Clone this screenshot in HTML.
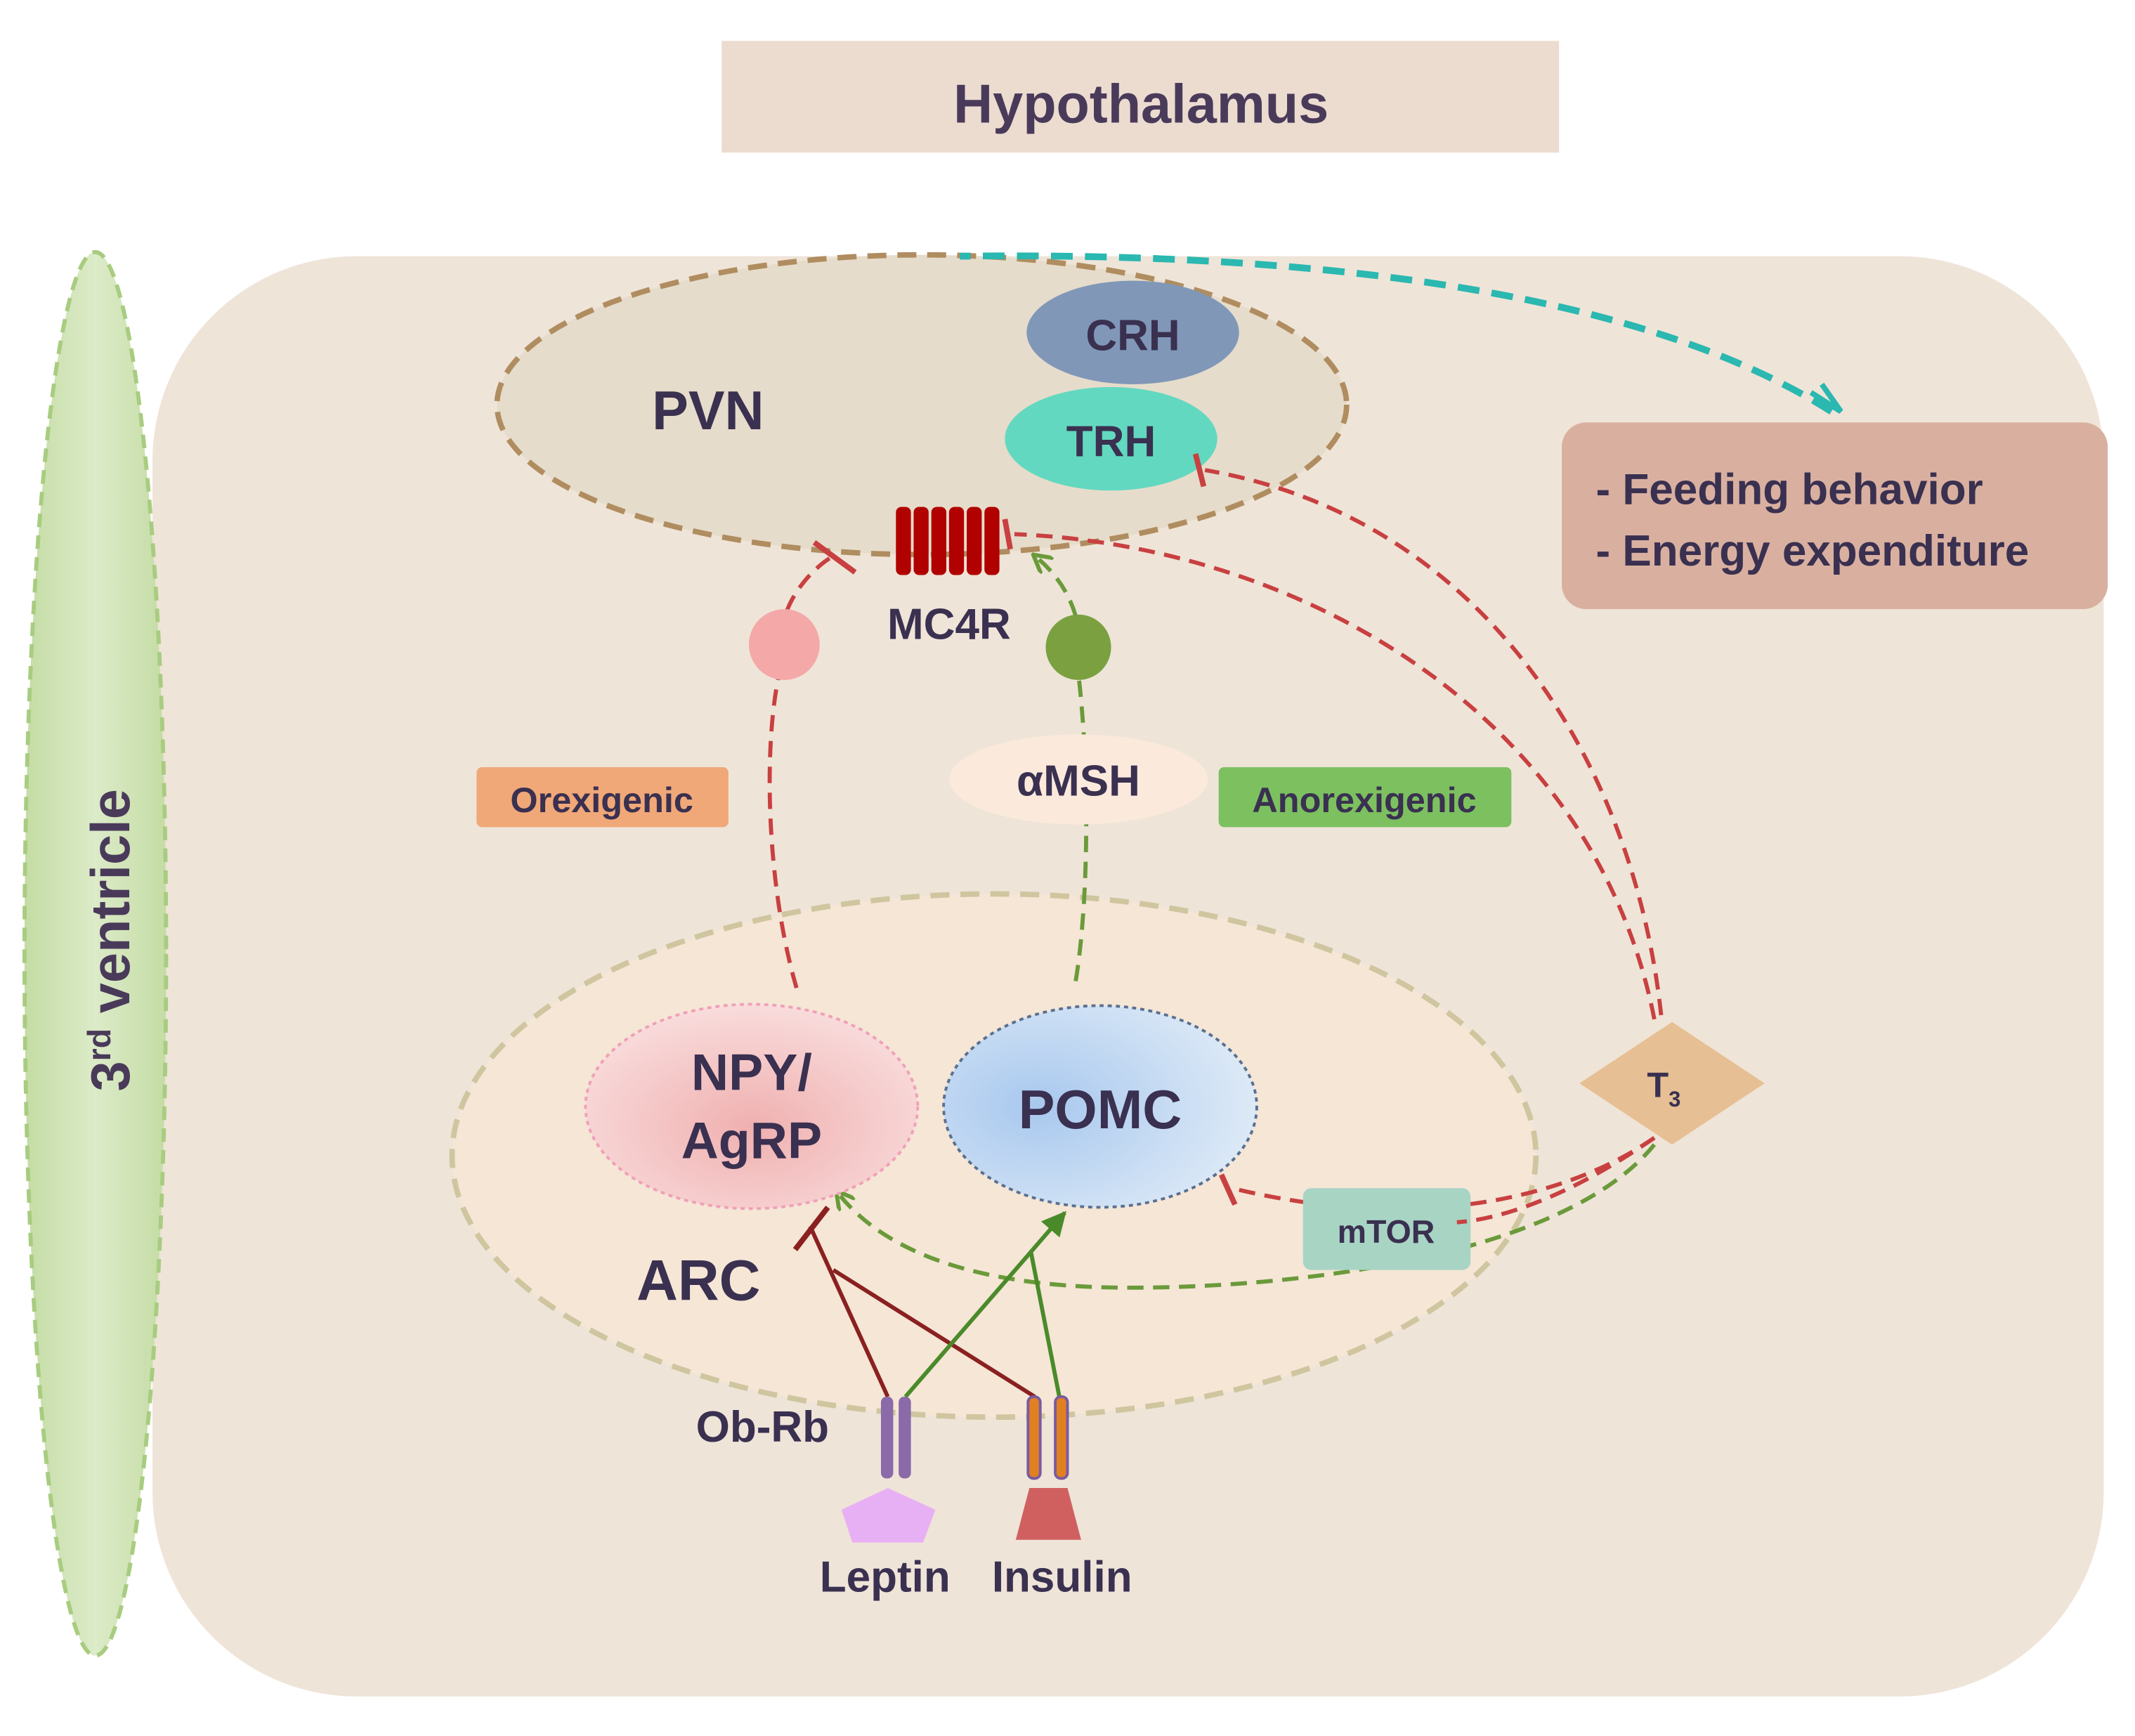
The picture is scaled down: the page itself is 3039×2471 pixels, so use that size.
<!DOCTYPE html>
<html><head><meta charset="utf-8"><style>html,body{margin:0;padding:0;background:#fff}svg{display:block}</style></head>
<body>
<svg width="3039" height="2471" viewBox="0 0 1568 1274" preserveAspectRatio="none" xmlns="http://www.w3.org/2000/svg" font-family="Liberation Sans, sans-serif" font-weight="bold">
<defs>
<marker id="ag" viewBox="0 0 10 10" refX="8" refY="5" markerWidth="5" markerHeight="5" orient="auto"><path d="M0,0 L9,5 L0,10" fill="none" stroke="#6a9a3a" stroke-width="2"/></marker>
<marker id="agS" viewBox="0 0 10 10" refX="9" refY="5" markerWidth="6" markerHeight="6" orient="auto"><path d="M0,0 L10,5 L0,10 z" fill="#4a8a2a"/></marker>
<radialGradient id="gn" cx="0.5" cy="0.6" r="0.6"><stop offset="0" stop-color="#f0b0b0"/><stop offset="1" stop-color="#f9dcdc"/></radialGradient>
<radialGradient id="gp" cx="0.3" cy="0.5" r="0.8"><stop offset="0" stop-color="#a8c8ee"/><stop offset="1" stop-color="#e4eef8"/></radialGradient>
<linearGradient id="gv" x1="0" x2="1"><stop offset="0" stop-color="#c4dca4"/><stop offset="0.5" stop-color="#dcebc8"/><stop offset="1" stop-color="#c4dca4"/></linearGradient>
</defs>
<rect width="1568" height="1274" fill="#fff"/>
<rect x="530" y="30" width="615" height="82" fill="#ecdcd0"/>
<text x="838" y="90" font-size="40" text-anchor="middle" fill="#4a3a5a">Hypothalamus</text>
<rect x="112" y="188" width="1433" height="1057" rx="150" fill="#efe4d8"/>
<ellipse cx="70" cy="700" rx="52" ry="515" fill="url(#gv)" stroke="#a8cc80" stroke-width="3" stroke-dasharray="10,6"/>
<text transform="translate(95,690) rotate(-90)" font-size="40" text-anchor="middle" fill="#4a3a5a">3<tspan font-size="24" dy="-14">rd</tspan><tspan dy="14"> ventricle</tspan></text>
<ellipse cx="677" cy="297" rx="312" ry="110" fill="#e6dccb" stroke="#b08d60" stroke-width="4" stroke-dasharray="14,8"/>
<ellipse cx="832" cy="244" rx="78" ry="38" fill="#8097b8"/>
<text x="832" y="257" font-size="32" text-anchor="middle" fill="#3a3050">CRH</text>
<ellipse cx="816" cy="322" rx="78" ry="38" fill="#63d8c0"/>
<text x="816" y="335" font-size="32" text-anchor="middle" fill="#3a3050">TRH</text>
<text x="520" y="315" font-size="40" text-anchor="middle" fill="#3a3050">PVN</text>
<g fill="#b00000"><rect x="658" y="372" width="11" height="50" rx="4"/><rect x="671" y="372" width="11" height="50" rx="4"/><rect x="684" y="372" width="11" height="50" rx="4"/><rect x="697" y="372" width="11" height="50" rx="4"/><rect x="710" y="372" width="11" height="50" rx="4"/><rect x="723" y="372" width="11" height="50" rx="4"/></g>
<text x="697" y="469" font-size="32" text-anchor="middle" fill="#3a3050">MC4R</text>
<path d="M1345,302 C1200,210 950,185 705,188" fill="none" stroke="#2ab8b0" stroke-width="5" stroke-dasharray="16,9"/>
<path d="M1330,288 L1352,302 L1338,282" fill="none" stroke="#2ab8b0" stroke-width="4"/>
<rect x="1147" y="310" width="401" height="137" rx="18" fill="#d9b0a0"/>
<text x="1172" y="370" font-size="32" fill="#3a3050">- Feeding behavior</text>
<text x="1172" y="415" font-size="32" fill="#3a3050">- Energy expenditure</text>
<ellipse cx="730" cy="848" rx="398" ry="192" fill="#f5e6d6" stroke="#cfc6a0" stroke-width="4" stroke-dasharray="14,8"/>
<g fill="none" stroke="#c84040" stroke-width="3" stroke-dasharray="12,7">
<path d="M1220,745 C1200,560 1090,380 885,345"/>
<path d="M1215,748 C1170,520 950,400 745,392"/>
<path d="M585,725 C560,640 560,520 578,475 M578,448 C585,430 600,415 612,408"/>
<path d="M1215,835 C1150,880 1040,905 905,872"/>
</g>
<g stroke="#c84040" stroke-width="4"><line x1="878" y1="333" x2="884" y2="357"/><line x1="738" y1="381" x2="742" y2="403"/><line x1="598" y1="398" x2="628" y2="420"/><line x1="897" y1="862" x2="907" y2="884"/></g>
<g fill="none" stroke="#6a9a3a" stroke-width="3" stroke-dasharray="12,7">
<path d="M790,720 C800,660 800,560 792,495"/>
<path d="M790,452 C785,435 775,420 760,408" marker-end="url(#ag)"/>
<path d="M1215,840 C1150,920 960,945 830,945 C720,945 650,920 615,875" marker-end="url(#ag)"/>
</g>
<circle cx="576" cy="473" r="26" fill="#f4a8a8"/>
<circle cx="792" cy="475" r="24" fill="#7aa040"/>
<rect x="350" y="563" width="185" height="44" rx="4" fill="#f0a878"/>
<text x="442" y="596" font-size="26" text-anchor="middle" fill="#3a3050">Orexigenic</text>
<rect x="895" y="563" width="215" height="44" rx="4" fill="#7cc060"/>
<text x="1002" y="596" font-size="26" text-anchor="middle" fill="#3a3050">Anorexigenic</text>
<ellipse cx="792" cy="572" rx="95" ry="33" fill="#fbeadc"/>
<text x="792" y="584" font-size="32" text-anchor="middle" fill="#3a3050">αMSH</text>
<ellipse cx="552" cy="812" rx="122" ry="75" fill="url(#gn)" stroke="#f0a0b8" stroke-width="2" stroke-dasharray="3,3"/>
<text x="552" y="800" font-size="38" text-anchor="middle" fill="#3a3050">NPY/</text>
<text x="552" y="850" font-size="38" text-anchor="middle" fill="#3a3050">AgRP</text>
<ellipse cx="808" cy="812" rx="115" ry="74" fill="url(#gp)" stroke="#5a7090" stroke-width="2" stroke-dasharray="3,3"/>
<text x="808" y="828" font-size="40" text-anchor="middle" fill="#3a3050">POMC</text>
<text x="513" y="954" font-size="42" text-anchor="middle" fill="#3a3050">ARC</text>
<path d="M1228,750 L1296,795 L1228,840 L1160,795 Z" fill="#e6c094"/>
<text x="1222" y="805" font-size="26" text-anchor="middle" fill="#3a3050">T<tspan font-size="16" dy="7">3</tspan></text>
<rect x="957" y="872" width="123" height="60" rx="6" fill="#a8d4c4"/>
<text x="1018" y="912" font-size="24" text-anchor="middle" fill="#3a3050">mTOR</text>
<path d="M1215,835 C1150,880 1100,895 1070,897" fill="none" stroke="#c84040" stroke-width="3" stroke-dasharray="12,7"/>
<g stroke="#8a2020" stroke-width="3" fill="none"><line x1="652" y1="1025" x2="595" y2="900"/><line x1="760" y1="1025" x2="612" y2="932"/><line x1="584" y1="917" x2="608" y2="886" stroke-width="4"/></g>
<g stroke="#4a8a2a" stroke-width="3" fill="none"><line x1="665" y1="1025" x2="782" y2="890" marker-end="url(#agS)"/><line x1="778" y1="1025" x2="757" y2="918"/></g>
<g><rect x="647" y="1025" width="9" height="60" rx="4" fill="#8a6aa8"/><rect x="660" y="1025" width="9" height="60" rx="4" fill="#8a6aa8"/>
<rect x="755" y="1025" width="9" height="60" rx="4" fill="#e08020" stroke="#7a5aa0" stroke-width="2"/><rect x="775" y="1025" width="9" height="60" rx="4" fill="#e08020" stroke="#7a5aa0" stroke-width="2"/></g>
<path d="M652,1092 L687,1108 L678,1132 L626,1132 L618,1108 Z" fill="#e8b0f4"/>
<path d="M756,1092 L784,1092 L794,1130 L746,1130 Z" fill="#d06060"/>
<text x="560" y="1058" font-size="32" text-anchor="middle" fill="#3a3050">Ob-Rb</text>
<text x="650" y="1168" font-size="32" text-anchor="middle" fill="#3a3050">Leptin</text>
<text x="780" y="1168" font-size="32" text-anchor="middle" fill="#3a3050">Insulin</text>
</svg>
</body></html>
